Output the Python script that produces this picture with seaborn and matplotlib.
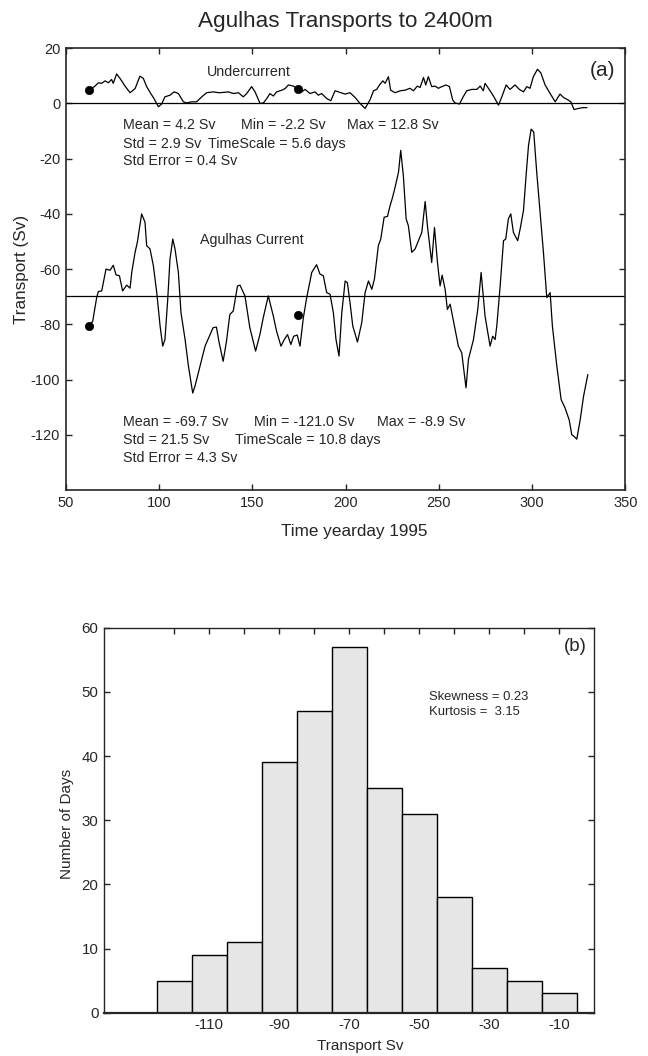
import numpy as np
import pandas as pd
import matplotlib
matplotlib.use('Agg')
import matplotlib.pyplot as plt
import seaborn as sns

# Agulhas Current transport (Sv) vs yearday 1995
ac_day = [62.7, 64.5, 66.6, 67.5, 69.3, 71.6, 73.8, 75.5, 77.0, 78.8, 80.5, 82.7, 84.5,
          85.4, 87.2, 88.4, 90.7, 92.5, 93.4, 95.2, 97.0, 98.8, 100.6, 102.0, 103.2,
          104.7, 105.9, 107.4, 108.6, 110.4, 111.8, 114.0, 115.8, 118.1, 119.3, 121.1,
          122.9, 124.7, 127.0, 129.0, 130.8, 132.1, 134.4, 136.2, 138.0, 139.8, 142.1,
          143.4, 146.1, 148.7, 151.8, 154.1, 155.9, 158.6, 161.3, 163.0, 165.4, 167.2,
          168.9, 170.7, 172.2, 174.1, 175.6, 177.4, 179.2, 181.9, 184.5, 186.3, 188.1,
          189.9, 191.7, 193.5, 194.9, 196.5, 198.0, 199.8, 201.0, 202.4, 203.9, 206.4,
          208.7, 210.5, 212.3, 214.1, 215.5, 217.6, 218.9, 220.7, 222.5, 223.9, 225.1,
          226.6, 228.4, 229.6, 231.0, 232.5, 233.7, 235.5, 237.3, 239.1, 240.9, 242.7,
          243.9, 246.2, 247.7, 249.3, 250.7, 251.8, 253.4, 254.6, 256.1, 258.7, 260.5,
          262.3, 264.6, 265.9, 268.6, 270.9, 272.7, 274.8, 277.5, 278.9, 280.2, 281.1,
          282.9, 284.7, 285.9, 287.3, 288.6, 290.0, 292.3, 293.6, 295.4, 296.8, 298.1,
          299.5, 300.9, 302.5, 304.3, 306.1, 307.9, 309.7, 310.9, 313.3, 315.6, 317.7,
          319.9, 321.3, 322.5, 324.0, 325.8, 327.6, 329.9]
ac_sv = [-80.6, -78.8, -70.3, -68.1, -67.9, -60.0, -60.4, -58.6, -62.1, -62.4, -67.9, -65.8, -66.9,
         -61.2, -53.9, -50.3, -40.0, -43.0, -51.5, -52.7, -58.8, -68.5, -80.6, -87.9, -85.5,
         -70.9, -56.4, -49.1, -52.7, -61.2, -75.8, -85.5, -95.2, -104.9, -102.4, -97.6,
         -92.7, -87.9, -84.3, -81.2, -81.0, -86.1, -93.4, -86.1, -76.4, -75.2, -66.1,
         -65.8, -69.7, -81.2, -89.7, -83.7, -77.6, -69.7, -77.0, -82.4, -87.9, -85.5,
         -83.7, -87.3, -84.3, -83.9, -87.9, -77.6, -70.3, -61.2, -58.4, -61.8, -62.4,
         -68.5, -69.1, -75.8, -85.5, -91.5, -75.8, -64.3, -64.9, -72.1, -80.6, -86.4,
         -79.4, -68.5, -64.3, -67.3, -63.6, -51.5, -49.1, -41.2, -40.9, -37.0, -34.3,
         -30.3, -24.9, -17.0, -26.1, -41.8, -44.3, -53.9, -52.7, -49.7, -46.7, -35.5,
         -44.3, -57.6, -44.9, -57.6, -66.1, -62.2, -67.3, -74.6, -72.7, -81.8, -87.9,
         -90.3, -103.0, -92.7, -85.5, -74.6, -61.2, -77.0, -87.9, -84.3, -85.5, -80.6,
         -66.1, -49.7, -49.1, -41.8, -40.0, -46.7, -49.7, -45.5, -38.8, -26.1, -15.2,
         -9.3, -10.3, -24.9, -39.4, -53.9, -70.3, -68.5, -80.6, -95.2, -107.3, -110.3,
         -114.6, -120.0, -120.6, -121.6, -114.6, -106.1, -98.2]

# Undercurrent transport (Sv)
uc_day = [62.7, 65.7, 67.5, 69.3, 71.1, 72.9, 74.6, 75.5, 77.3, 79.1, 81.8, 84.5, 87.2, 89.8,
          91.6, 93.4, 95.6, 97.3, 99.7, 101.4, 103.2, 105.9, 108.1, 110.4, 113.1, 114.9,
          117.5, 120.2, 122.9, 125.6, 129.2, 131.8, 134.5, 137.2, 139.9, 142.6, 145.2,
          147.0, 149.7, 151.5, 154.2, 156.0, 157.8, 159.5, 161.3, 163.1, 165.8, 167.6,
          169.4, 172.1, 174.7, 176.5, 178.3, 181.0, 183.7, 185.4, 187.2, 189.9, 192.1,
          194.4, 197.1, 199.8, 202.4, 205.1, 207.8, 210.5, 213.2, 215.0, 216.7, 218.2,
          220.0, 221.2, 223.0, 224.2, 226.6, 229.3, 231.9, 234.6, 236.4, 238.5, 240.0,
          241.8, 243.0, 244.4, 246.2, 248.0, 249.8, 251.6, 253.9, 255.7, 257.5, 258.7,
          261.1, 262.9, 265.0, 267.7, 270.4, 272.2, 273.9, 274.8, 276.6, 279.3, 282.0,
          283.8, 286.1, 288.2, 290.9, 293.2, 295.4, 297.2, 298.9, 300.7, 302.9, 304.7,
          307.0, 309.7, 312.4, 315.0, 316.8, 319.0, 320.8, 322.5, 324.9, 327.2, 329.4]
uc_sv = [4.8, 6.3, 7.5, 7.3, 8.2, 7.5, 8.7, 7.3, 10.7, 9.1, 6.3, 3.9, 5.4, 9.9,
         9.1, 6.1, 3.6, 1.8, -1.2, -0.2, 2.4, 3.0, 4.2, 3.6, 0.6, 0.2,
         0.6, 0.6, 2.4, 3.9, 4.2, 3.9, 4.0, 4.2, 3.6, 3.9, 2.4,
         3.6, 6.1, 4.2, 0.0, 0.2, 1.8, 3.6, 2.7, 4.2, 4.8, 5.4,
         6.7, 6.3, 5.1, 4.2, 5.1, 3.6, 4.2, 3.0, 3.6, 1.8, 1.0,
         4.6, 4.0, 3.4, 3.9, 2.2, 0.0, -1.8, 1.4, 4.6, 5.1, 6.7,
         8.2, 7.3, 9.7, 4.8, 3.9, 4.6, 4.8, 5.5, 4.6, 6.3, 5.8,
         9.4, 6.7, 9.7, 6.1, 6.3, 5.5, 6.1, 6.7, 6.1, 1.2, 0.2,
         -0.2, 2.2, 4.6, 5.1, 5.1, 6.3, 4.6, 7.3, 5.5, 2.7, -0.6,
         2.4, 6.7, 5.1, 6.7, 5.1, 4.2, 6.1, 5.5, 9.7, 12.4, 11.1,
         6.7, 3.6, 0.6, 3.4, 2.2, 1.4, 0.6, -2.2, -1.8, -1.5, -1.5]

# mooring markers
dot_day = [62.7, 174.7]
dot_uc = [4.8, 5.1]
dot_ac = [-80.6, -76.6]

uc_mean = 4.2
ac_mean = -69.7

# histogram of Agulhas transport
bin_centers = [-120, -110, -100, -90, -80, -70, -60, -50, -40, -30, -20, -10]
day_counts = [5, 9, 11, 39, 47, 57, 35, 31, 18, 7, 5, 3]

sns.set_style('ticks')
plt.rcParams['font.family'] = ['Liberation Sans', 'DejaVu Sans']
plt.rcParams['axes.unicode_minus'] = False
plt.rcParams['xtick.direction'] = 'in'
plt.rcParams['ytick.direction'] = 'in'

fig = plt.figure(figsize=(6.48, 10.56), dpi=100)

# ---- (a) time series ----
ax = fig.add_axes([0.1014, 0.5360, 0.8636, 0.4183])
ax.axhline(0, color='black', lw=0.9)
ax.axhline(ac_mean, color='black', lw=0.9)
sns.lineplot(x=uc_day, y=uc_sv, ax=ax, color='black', lw=0.9, estimator=None, sort=False)
sns.lineplot(x=ac_day, y=ac_sv, ax=ax, color='black', lw=0.9, estimator=None, sort=False)
sns.scatterplot(x=dot_day, y=dot_uc, ax=ax, color='black', s=36, edgecolor='black', zorder=5)
sns.scatterplot(x=dot_day, y=dot_ac, ax=ax, color='black', s=36, edgecolor='black', zorder=5)

ax.set_xlim(50, 350)
ax.set_ylim(-140, 20)
ax.set_xticks(np.arange(50, 351, 50))
ax.set_yticks(np.arange(-120, 21, 20))
ax.tick_params(top=True, right=True, length=4, width=1, labelsize=10.5, pad=4)
for s in ax.spines.values():
    s.set_linewidth(1.2)
ax.set_xlabel('Time yearday 1995', fontsize=12.3)
ax.set_ylabel('Transport (Sv)', fontsize=12.3)
ax.xaxis.set_label_coords(0.515, -0.078)
ax.yaxis.set_label_coords(-0.066, 0.5)

fs = 10.3
ax.text(125.8, 11.5, 'Undercurrent', fontsize=fs, va='center')
ax.text(344.5, 12, '(a)', fontsize=15, va='center', ha='right')
ax.text(80.5, -7.9, 'Mean = 4.2 Sv', fontsize=fs, va='center')
ax.text(143.8, -7.9, 'Min = -2.2 Sv', fontsize=fs, va='center')
ax.text(200.7, -7.9, 'Max = 12.8 Sv', fontsize=fs, va='center')
ax.text(80.5, -14.5, 'Std = 2.9 Sv', fontsize=fs, va='center')
ax.text(126.5, -14.5, 'TimeScale = 5.6 days', fontsize=fs, va='center')
ax.text(80.5, -20.9, 'Std Error = 0.4 Sv', fontsize=fs, va='center')
ax.text(122.0, -49.5, 'Agulhas Current', fontsize=fs, va='center')
ax.text(80.5, -115.2, 'Mean = -69.7 Sv', fontsize=fs, va='center')
ax.text(151.0, -115.2, 'Min = -121.0 Sv', fontsize=fs, va='center')
ax.text(216.7, -115.2, 'Max = -8.9 Sv', fontsize=fs, va='center')
ax.text(80.5, -121.8, 'Std = 21.5 Sv', fontsize=fs, va='center')
ax.text(140.8, -121.8, 'TimeScale = 10.8 days', fontsize=fs, va='center')
ax.text(80.5, -128.3, 'Std Error = 4.3 Sv', fontsize=fs, va='center')

fig.text(345.5 / 648, 1 - 26.7 / 1056, 'Agulhas Transports to 2400m', fontsize=16.2,
         ha='center', va='baseline')

# ---- (b) histogram ----
hist_df = pd.DataFrame({'transport': bin_centers, 'days': day_counts})
bx = fig.add_axes([0.1605, 0.0410, 0.7562, 0.3646])
sns.histplot(data=hist_df, x='transport', weights='days', binwidth=10, binrange=(-125, -5),
             ax=bx, color='#e6e6e6', alpha=1, edgecolor='black', linewidth=1)
bx.set_xlim(-140, 0)
bx.set_ylim(0, 60)
bx.set_xticks(np.arange(-120, 0, 10))
bx.set_xticklabels(['' if v % 20 == 0 else str(v) for v in range(-120, 0, 10)])
bx.set_yticks(np.arange(0, 61, 10))
bx.tick_params(top=True, right=True, length=4, width=1, labelsize=10.8, pad=4)
for s in bx.spines.values():
    s.set_linewidth(1.0)
bx.spines['bottom'].set_linewidth(1.6)
bx.set_xlabel('Transport Sv', fontsize=11)
bx.set_ylabel('Number of Days', fontsize=11)
bx.xaxis.set_label_coords(0.522, -0.068)
bx.yaxis.set_label_coords(-0.061, 0.49)
bx.text(-2, 57.1, '(b)', fontsize=13.4, ha='right', va='center')
bx.text(-47.1, 49.25, 'Skewness = 0.23', fontsize=9.4, va='center')
bx.text(-47.1, 46.8, 'Kurtosis =  3.15', fontsize=9.4, va='center')

fig.savefig('out.png', dpi=100)
